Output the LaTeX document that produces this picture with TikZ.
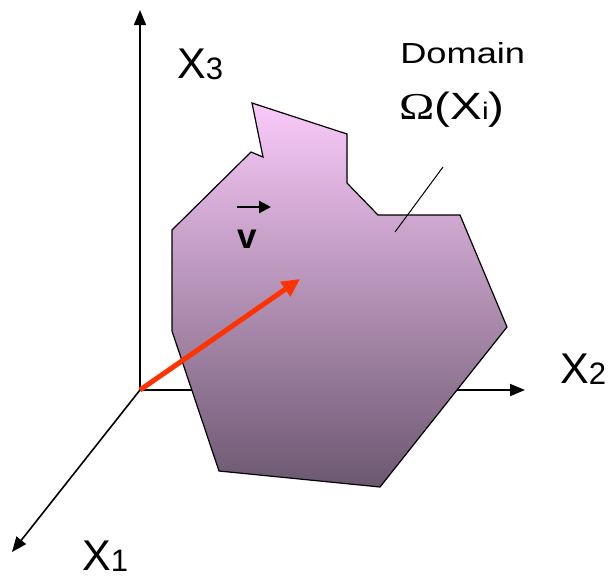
\documentclass[tikz,border=0pt]{standalone}
\usepackage{fontspec}
\setmainfont{Liberation Sans}
\newfontfamily\greekfont{Liberation Serif}
\usetikzlibrary{arrows.meta}
\definecolor{domtop}{RGB}{250,202,250}
\definecolor{dombot}{RGB}{108,88,112}
\definecolor{vecred}{RGB}{255,51,0}
\newcommand{\axname}[1]{X\raisebox{-1pt}{\fontsize{31}{31}\selectfont #1}}

\begin{document}
\begin{tikzpicture}[x=1pt, y=-1pt,
    axis/.style={line width=1.6pt, -{Triangle[length=15pt, width=12pt]}},
    axlab/.style={anchor=base west, inner sep=0pt, font=\fontsize{43}{43}\selectfont},
    domlab/.style={anchor=base west, inner sep=0pt, xscale=1.25},
    region/.style={draw=black, line width=1.2pt, top color=domtop, bottom color=dombot}]
  \useasboundingbox (0,0) rectangle (608,579);
  % axes
  \coordinate (O) at (140,390);
  \coordinate (e1) at (12,552);
  \coordinate (e2) at (525,390);
  \coordinate (e3) at (140,10);
  \draw[axis] (O) -- (e1);
  \draw[axis] (O) -- (e2);
  \draw[axis] (O) -- (e3);
  \node[axlab] (x1) at (82,570) {\axname{1}};
  \node[axlab] (x2) at (560,383) {\axname{2}};
  \node[axlab] (x3) at (177,78) {\axname{3}};
  % domain
  \path[region] (252,103) -- (347,134) -- (347,183) -- (378,215) -- (460,215)
    -- (507,327) -- (380,487) -- (219,471) -- (172,331) -- (172,230)
    -- (251,152) -- (263,157) -- cycle;
  \node[domlab, font=\fontsize{29}{29}\selectfont] (dom) at (400,63) {Domain};
  \node[domlab, font=\fontsize{38}{38}\selectfont] (omega) at (399,119)
    {{\greekfont\char"03A9}(X{\fontsize{24}{24}\selectfont i})};
  \coordinate (lead) at (395,232);
  \draw[line width=1pt] (443,167) -- (lead);
  % vector
  \coordinate (tip) at (300,279);
  \draw[vecred, line width=5pt, -{Triangle[length=18pt, width=17pt]}] (O) -- (tip);
  \node[anchor=base west, inner sep=0pt, font=\fontsize{35}{35}\selectfont\bfseries] (v) at (237,248) {v};
  \coordinate (va) at (237,207);
  \coordinate (vb) at (271,207);
  \draw[line width=2.2pt, -{Triangle[length=12pt, width=12pt]}] (va) -- (vb);
\end{tikzpicture}
\end{document}
